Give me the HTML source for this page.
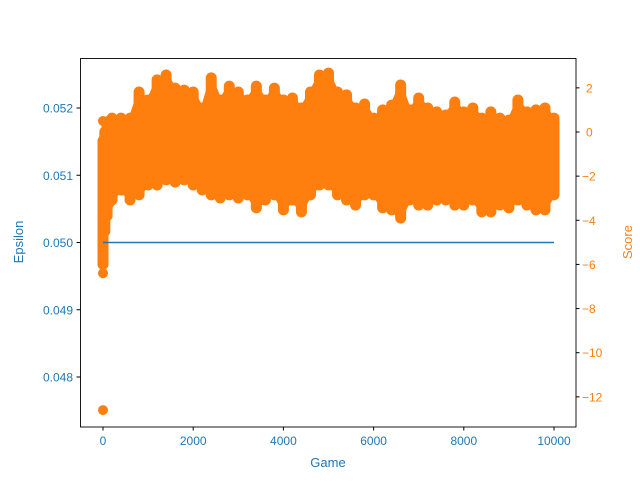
<!DOCTYPE html>
<html><head><meta charset="utf-8"><style>
body{margin:0;background:#fff}
svg{font-family:"Liberation Sans","DejaVu Sans",sans-serif;font-size:12px}
</style></head><body>
<svg id="chart" width="640" height="480">
<rect x="0" y="0" width="640" height="480" fill="#fff"/>
<g id="scoreLayer"></g>
<g id="epsLayer"></g>
<rect x="80.5" y="58.5" width="495.5" height="368.5" fill="none" stroke="#000" stroke-width="0.9"/>
<g id="xticks"></g>
<g id="lticks"></g>
<g id="rticks"></g>
<text x="328" y="467" text-anchor="middle" fill="#1f77b4" font-size="13">Game</text>
<text transform="translate(23,242) rotate(-90)" text-anchor="middle" fill="#1f77b4" font-size="13">Epsilon</text>
<text transform="translate(632,242) rotate(-90)" text-anchor="middle" fill="#ff7f0e" font-size="13">Score</text>
</svg>
<script>
const xTicks=[0,2000,4000,6000,8000,10000];
const epsTicks=[0.048,0.049,0.050,0.051,0.052];
const epsTickLabels=["0.048","0.049","0.050","0.051","0.052"];
const scoreTicks=[2,0,-2,-4,-6,-8,-10,-12];
const epsGames=[0,10000];
const epsValues=[0.05,0.05];
const bandGames=[200,400,600,800,1000,1200,1400,1600,1800,2000,2200,2400,2600,2800,3000,3200,3400,3600,3800,4000,4200,4400,4600,4800,5000,5200,5400,5600,5800,6000,6200,6400,6600,6800,7000,7200,7400,7600,7800,8000,8200,8400,8600,8800,9000,9200,9400,9600,9800,10000];
const bandHigh=[0.63,0.63,0.63,1.81,1.45,2.36,2.58,1.99,1.9,1.81,1.09,2.45,1.45,2.08,1.81,1.45,2.08,1.45,1.99,1.45,1.54,1.09,1.81,2.58,2.67,1.81,1.68,1.09,1.27,0.63,1.0,1.22,2.13,1.0,1.54,1.09,0.91,0.77,1.36,0.91,1.09,0.63,0.91,0.63,0.54,1.45,0.91,1.0,1.09,0.63];
const bandLow=[-3.08,-2.63,-3.08,-2.85,-2.4,-2.4,-2.17,-2.27,-2.17,-2.4,-2.63,-2.85,-2.99,-2.85,-2.99,-2.85,-3.44,-3.08,-2.85,-3.53,-3.08,-3.62,-2.85,-2.4,-2.4,-2.85,-3.08,-3.31,-2.85,-2.85,-3.44,-3.53,-3.9,-3.08,-3.31,-3.31,-3.08,-3.08,-3.31,-3.31,-3.08,-3.62,-3.62,-3.31,-3.44,-3.08,-3.31,-3.53,-3.53,-2.85];
const earlyGames=[0,0,0,0,0,30,60,100,130];
const earlyScores=[-12.6,-6.4,-5.6,-4.8,0.5,-4.2,-3.8,-3.3,-3.0];
const earlyHigh=[-0.4,0.0,0.3,0.5];
const earlyLow=[-6.0,-4.5,-3.8,-3.2];
const earlyBandGames=[0,40,90,140];

const NS="http://www.w3.org/2000/svg";
const X=g=>103+g*0.0451;
const YE=e=>242.5-(e-0.05)*67250;
const YS=s=>132-s*22.07;
function mk(t,parent,attrs){const el=document.createElementNS(NS,t);for(const k in attrs)el.setAttribute(k,attrs[k]);parent.appendChild(el);return el;}
const sL=document.getElementById('scoreLayer');
const orange="#ff7f0e";
function band(gs,hi,lo){for(let i=0;i<gs.length;i++){
  const l=mk('line',sL,{x1:X(gs[i]),x2:X(gs[i]),y1:YS(hi[i]),y2:YS(lo[i]),stroke:orange,'stroke-width':11,'stroke-linecap':'round'});
  
  
  if(i<gs.length-1){const p=mk('polygon',sL,{points:`${X(gs[i])},${YS(hi[i])} ${X(gs[i+1])},${YS(hi[i+1])} ${X(gs[i+1])},${YS(lo[i+1])} ${X(gs[i])},${YS(lo[i])}`,fill:orange,stroke:orange,'stroke-width':3,'stroke-linejoin':'round'});
  
  }
}}
band(earlyBandGames,earlyHigh,earlyLow);
band(bandGames,bandHigh,bandLow);
for(let i=0;i<earlyGames.length;i++){const c=mk('circle',sL,{cx:X(earlyGames[i]),cy:YS(earlyScores[i]),r:5,fill:orange});

}
const eL=document.getElementById('epsLayer');
const el=mk('line',eL,{x1:X(epsGames[0]),x2:X(epsGames[1]),y1:YE(epsValues[0]),y2:YE(epsValues[1]),stroke:"#1f77b4",'stroke-width':1.5});


const xg=document.getElementById('xticks');
xTicks.forEach(v=>{mk('line',xg,{x1:X(v),x2:X(v),y1:427,y2:430.5,stroke:'#000'});
const t=mk('text',xg,{x:X(v),y:445,'text-anchor':'middle',fill:'#1f77b4'});t.textContent=v;

});
const lg=document.getElementById('lticks');
epsTicks.forEach((v,i)=>{mk('line',lg,{x1:76.5,x2:80.5,y1:YE(v),y2:YE(v),stroke:'#000'});
const t=mk('text',lg,{x:73,y:YE(v)+4.5,'text-anchor':'end',fill:'#1f77b4'});t.textContent=epsTickLabels[i];

});
const rg=document.getElementById('rticks');
scoreTicks.forEach(v=>{mk('line',rg,{x1:576,x2:579.5,y1:YS(v),y2:YS(v),stroke:'#000'});
const t=mk('text',rg,{x:v<0?582:586,y:YS(v)+4.5,fill:orange});t.textContent=v<0?'\u2212'+(-v):v;

});
</script>
</body></html>
